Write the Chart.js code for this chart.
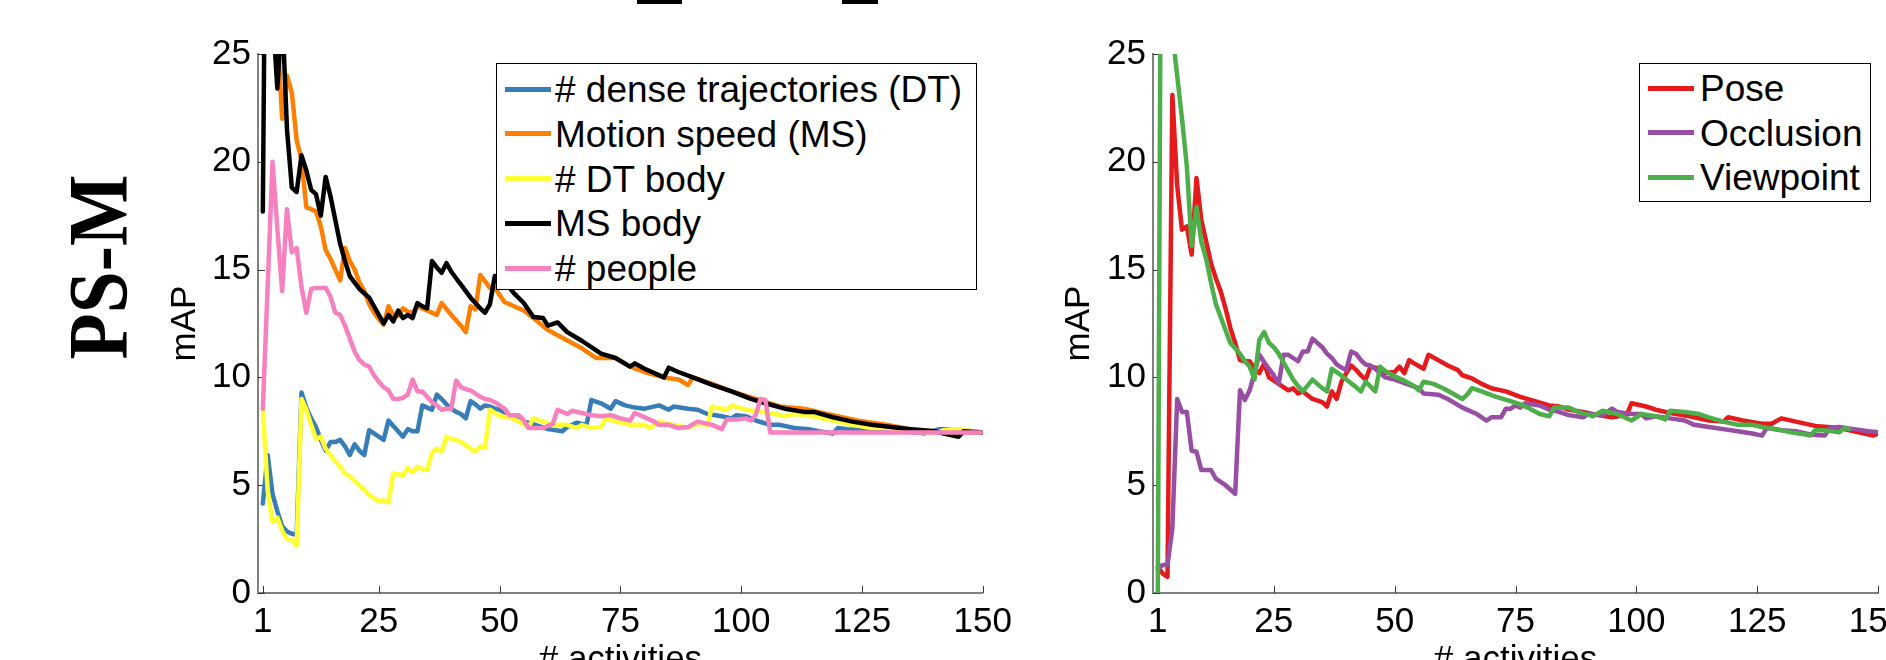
<!DOCTYPE html>
<html><head><meta charset="utf-8">
<script src="https://cdn.jsdelivr.net/npm/chart.js@4.4.1/dist/chart.umd.min.js"></script>
<style>
html,body{margin:0;padding:0;background:#fff;}
body{width:1886px;height:660px;overflow:hidden;position:relative;font-family:"Liberation Sans",Arial,sans-serif;}
canvas{position:absolute;top:0;}
#psm{position:absolute;left:98px;top:267px;transform:translate(-50%,-50%) rotate(-90deg) scaleX(0.89);font:bold 85px "Liberation Serif",serif;line-height:1;white-space:nowrap;color:#000;}
.legend{position:absolute;border:1.5px solid #000;background:#fff;box-sizing:border-box;}
.lrow{position:absolute;white-space:nowrap;font-size:37px;line-height:37px;color:#000;font-family:"Liberation Sans",Arial,sans-serif;}
.lline{position:absolute;height:5px;}
.us{position:absolute;background:#000;}
</style></head><body>
<div class="us" style="left:637px;top:0;width:45px;height:4px"></div>
<div class="us" style="left:842px;top:0;width:36px;height:4px"></div>
<div id="psm">PS-M</div>
<canvas id="c1" width="1020" height="700" style="left:0"></canvas>
<canvas id="c2" width="910" height="700" style="left:1020px"></canvas>
<script>
// ---------- data ----------
const xTicks = [1, 25, 50, 75, 100, 125, 150];
const yTicks = [0, 5, 10, 15, 20, 25];
const leftLabels = ['# dense trajectories (DT)', 'Motion speed (MS)', '# DT body', 'MS body', '# people'];
const rightLabels = ['Pose', 'Occlusion', 'Viewpoint'];

const dtX = [1,2,3,4,5,6,7,8,9,10,11,12,13,14,15,16,17,18,19,20,21,22,23,24,25,26,27,28,29,30,31,32,33,34,35,36,37,38,39,40,41,42,43,44,45,46,47,48,49,50,52,54,56,58,60,63,64,66,68,69,71,73,74,76,78,80,83,85,86,89,91,93,96,98,99,101,103,106,108,111,114,116,119,120,122,125,127,130,133,136,138,141,142,145,148,150];
const dtY = [4.15,6.4,4.6,3.8,3.1,2.85,2.75,2.7,9.3,8.6,8.1,7.7,7.1,6.6,7.0,7.0,7.1,6.8,6.4,6.9,6.6,6.4,7.55,7.4,7.25,7.1,8.0,7.75,7.5,7.25,7.6,7.5,7.5,8.7,8.6,8.5,9.2,9.0,8.75,8.55,8.4,8.3,8.1,8.9,8.75,8.55,8.7,8.65,8.55,8.5,8.25,8.0,7.9,7.75,7.6,7.5,7.7,7.9,7.8,8.95,8.8,8.55,8.9,8.7,8.6,8.55,8.7,8.5,8.65,8.55,8.5,8.3,8.2,8.1,8.25,8.2,8.0,7.8,7.8,7.65,7.6,7.5,7.4,7.65,7.6,7.55,7.5,7.5,7.5,7.45,7.4,7.6,7.6,7.55,7.5,7.45];

const msX = [1,2,3,4,5,6,7,8,9,10,11,12,13,14,15,16,17,18,19,20,21,22,23,24,25,26,27,28,29,30,31,32,33,34,35,37,38,40,42,43,44,45,46,47,48,49,51,55,57,60,67,70,74,77,80,84,87,89,90,94,98,103,108,113,119,124,130,135,140,144,146,150];
const msY = [30,45,32,26,22,24,23.2,21,20.1,17.9,17.8,17.7,17.0,15.9,15.5,15.0,14.5,16.0,15.4,15.0,14.4,14.0,13.4,13.0,12.7,12.45,13.3,12.9,12.85,13.2,13.05,13.0,13.3,13.2,13.1,12.9,13.45,12.9,12.4,12.1,13.3,13.15,14.75,14.45,14.15,14.15,13.5,13.1,12.75,12.2,11.35,10.9,10.9,10.5,10.25,10.0,9.9,9.65,10.0,9.7,9.35,9.0,8.65,8.55,8.25,8.0,7.8,7.6,7.5,7.3,7.45,7.45];

const dtbX = [1,2,3,4,5,6,7,8,9,10,11,12,13,14,15,16,17,18,19,20,21,22,23,24,25,26,27,28,29,30,31,32,33,34,35,36,37,38,39,40,41,42,43,44,45,46,47,48,50,52,54,56,57,59,61,64,66,67,69,71,72,74,77,80,81,83,86,89,91,93,94,97,98,101,104,107,109,111,115,119,123,127,130,135,140,142,145,150];
const dtbY = [8.55,4.75,3.3,3.5,2.9,2.5,2.45,2.2,9.0,8.5,7.8,7.15,7.25,6.7,6.4,6.1,5.85,5.55,5.4,5.2,5.0,4.8,4.55,4.4,4.25,4.3,4.2,5.55,5.5,5.45,5.8,5.6,5.85,5.75,5.7,6.5,6.7,6.55,7.25,7.15,7.1,7.0,6.85,6.7,6.55,6.8,6.75,8.5,8.2,8.15,7.95,7.7,8.1,7.95,7.8,7.8,7.65,7.8,7.65,7.7,8.1,7.95,7.8,7.8,7.65,7.95,7.8,7.65,7.85,7.8,8.65,8.5,8.7,8.5,8.4,8.3,8.2,8.3,8.2,8.0,7.8,7.65,7.65,7.5,7.4,7.55,7.6,7.45];

const msbX = [1,2,3,4,5,6,7,8,9,10,11,12,13,14,15,16,17,18,19,20,21,22,23,24,25,26,27,28,29,30,31,32,33,34,35,36,37,38,39,40,41,42,43,44,45,46,47,48,49,51,53,55,57,59,60,62,64,67,71,74,77,78,80,84,85,87,90,94,98,102,105,109,113,115,119,123,127,131,135,140,142,145,146,150];
const msbY = [17.7,45,27,23.4,27,21.5,18.8,18.6,20.3,19.6,18.7,18.5,17.5,19.3,18.4,17.3,16.2,15.4,14.7,14.4,14.1,13.9,13.7,13.3,12.9,12.5,12.9,12.6,13.1,12.75,12.9,12.75,13.45,13.3,13.2,15.4,15.1,14.85,15.3,14.9,14.6,14.3,14.0,13.7,13.45,13.2,13.0,13.4,14.7,14.45,13.9,13.45,12.8,12.75,12.4,12.55,12.1,11.7,11.1,10.9,10.5,10.65,10.4,10.0,10.45,10.25,10.0,9.65,9.35,9.0,8.8,8.55,8.4,8.4,8.15,7.95,7.8,7.7,7.6,7.5,7.4,7.25,7.5,7.45];

const pplX = [1,2,3,4,5,6,7,8,9,10,11,12,13,14,15,16,17,18,19,20,21,22,23,24,25,26,27,28,29,30,31,32,33,34,35,36,37,38,39,40,41,42,43,44,45,46,47,48,49,50,51,52,54,55,56,59,61,62,64,65,67,69,71,73,75,77,78,80,82,83,85,87,89,91,94,96,97,99,101,102,103,104,105,106,150];
const pplY = [8.55,14.2,20.0,16.9,14.0,17.8,15.8,16.0,14.2,13.0,14.1,14.15,14.15,14.15,13.75,13.0,12.9,12.4,11.8,11.2,10.8,10.6,10.5,10.1,9.8,9.55,9.4,9.0,9.0,9.05,9.2,9.9,9.35,9.35,9.1,8.85,8.7,8.5,8.55,8.55,9.85,9.55,9.45,9.4,9.25,9.1,9.0,8.95,8.85,8.7,8.55,8.25,8.25,8.0,7.65,7.65,7.85,8.5,8.3,8.45,8.35,8.25,8.2,8.25,8.1,8.0,8.35,8.15,7.95,7.8,7.8,7.65,7.7,7.95,7.8,7.6,8.05,8.05,8.1,8.0,8.25,9.0,8.95,7.45,7.45];

const poseX = [1,2,3,4,5,6,7,8,9,10,11,12,13,14,15,16,17,18,19,20,21,22,23,24,25,26,27,28,29,30,31,33,35,36,37,38,39,40,41,42,43,44,45,47,48,50,51,52,53,54,56,57,59,61,63,64,66,68,70,73,76,79,82,84,86,89,92,95,98,99,102,104,107,111,115,118,119,122,126,128,130,133,137,142,145,149,150];
const poseY = [1.2,0.9,0.75,23.1,18.9,16.85,17.0,15.7,19.25,17.3,16.3,15.3,14.6,14.0,13.2,12.3,11.6,10.8,10.75,10.75,10.4,10.2,10.65,10.0,9.85,9.7,9.55,9.4,9.5,9.25,9.35,9.0,8.85,8.65,9.35,9.0,9.8,10.2,10.55,10.35,10.1,9.9,10.5,10.4,10.2,10.25,10.5,10.2,10.8,10.65,10.4,11.05,10.8,10.55,10.35,10.1,9.95,9.7,9.5,9.35,9.1,8.9,8.7,8.65,8.5,8.4,8.25,8.15,8.25,8.8,8.65,8.5,8.35,8.2,8.0,7.95,8.15,8.0,7.85,7.85,8.1,7.95,7.75,7.65,7.5,7.3,7.4];

const occX = [1,2,3,4,5,6,7,8,9,10,11,12,13,14,15,16,17,18,19,20,21,22,23,24,25,26,27,28,29,30,31,32,33,34,35,36,37,38,39,40,41,42,43,44,45,46,48,50,53,55,56,59,61,64,67,69,70,72,73,74,75,76,77,80,82,84,86,89,90,93,95,96,99,101,102,104,107,110,112,115,118,121,124,126,127,130,133,136,139,140,142,145,148,150];
const occY = [1.1,1.3,1.3,3.0,9.0,8.4,8.4,6.6,6.55,5.7,5.7,5.7,5.3,5.15,5.0,4.8,4.6,9.4,8.95,9.4,10.2,11.05,10.7,10.4,10.1,9.7,11.05,11.05,10.9,10.75,11.2,11.2,11.8,11.6,11.4,11.1,10.9,10.6,10.45,10.35,11.2,11.1,10.8,10.6,10.55,10.4,10.0,9.9,9.65,9.5,9.25,9.2,9.0,8.6,8.3,8.0,8.15,8.15,8.55,8.55,8.7,8.6,8.8,8.7,8.5,8.4,8.25,8.15,8.3,8.25,8.55,8.4,8.3,8.3,8.1,8.2,8.1,8.0,7.8,7.7,7.6,7.5,7.4,7.3,7.65,7.55,7.5,7.35,7.3,7.65,7.7,7.6,7.5,7.45];

const viewX = [1,2,3,4,5,6,7,8,9,10,11,12,13,14,15,16,17,18,19,20,21,22,23,24,25,26,27,28,29,30,31,33,35,36,37,38,40,42,43,44,46,47,48,50,52,54,55,56,58,60,62,64,65,66,68,71,74,76,78,80,82,83,86,88,91,93,96,99,101,104,106,107,110,113,115,118,121,124,126,129,132,135,136,137,139,142,143,144];
const viewY = [0,50,32,26,24,22,19.8,16.1,17.9,16.3,15.5,14.4,13.4,12.8,12.2,11.6,11.35,11.1,10.75,10.5,9.9,11.75,12.1,11.6,11.4,11.1,10.7,10.3,9.9,9.6,9.35,9.9,9.5,9.35,10.4,10.25,9.9,9.55,9.35,9.8,9.35,10.5,10.3,10.05,9.85,9.6,9.4,9.8,9.7,9.5,9.25,9.0,9.2,9.5,9.35,9.1,8.9,8.75,8.55,8.3,8.2,8.6,8.6,8.4,8.2,8.45,8.3,8.0,8.3,8.2,8.05,8.45,8.4,8.3,8.15,7.95,7.8,7.8,7.7,7.6,7.45,7.35,7.3,7.55,7.55,7.45,7.65,7.6];

// ---------- styling ----------
const FONT = '"Liberation Sans", Arial, Helvetica, sans-serif';
const H = 700;
const leftColors = ['#377eb8', '#ff7f00', '#ffff33', '#000000', '#f781bf'];
const rightColors = ['#e41a1c', '#984ea3', '#4daf4a'];

const pts = (xs, ys) => xs.map((x, i) => ({ x: x, y: ys[i] }));

const inwardTicks = {
  id: 'inwardTicks',
  beforeDatasetsDraw(chart) {
    const { ctx, chartArea, scales } = chart;
    ctx.save();
    ctx.strokeStyle = '#333';
    ctx.lineWidth = 1;
    scales.x.ticks.forEach(t => {
      const px = Math.round(scales.x.getPixelForValue(t.value)) + 0.5;
      ctx.beginPath(); ctx.moveTo(px, chartArea.bottom); ctx.lineTo(px, chartArea.bottom - 7); ctx.stroke();
    });
    scales.y.ticks.forEach(t => {
      const py = Math.round(scales.y.getPixelForValue(t.value)) + 0.5;
      ctx.beginPath(); ctx.moveTo(chartArea.left, py); ctx.lineTo(chartArea.left + 7, py); ctx.stroke();
    });
    ctx.restore();
  }
};

function makeChart(canvas, datasets, cfg) {
  return new Chart(canvas, {
    type: 'line',
    data: { datasets: datasets },
    options: {
      responsive: false, animation: false, devicePixelRatio: 1,
      layout: { padding: { top: 54, right: cfg.padRight, bottom: 0, left: 0 } },
      plugins: { legend: { display: false }, tooltip: { enabled: false } },
      elements: { point: { radius: 0 }, line: { tension: 0, borderWidth: 4.5, borderJoinStyle: 'round', borderCapStyle: 'round' } },
      scales: {
        x: {
          type: 'linear', min: 0, max: 150,
          afterBuildTicks: s => { s.ticks = xTicks.map(v => ({ value: v })); },
          afterFit: s => { s.height = H - 593; },
          grid: { display: false, drawTicks: false },
          border: { display: true, color: '#808080', width: 2 },
          ticks: { color: '#000', font: { family: FONT, size: 35 }, padding: 8, maxRotation: 0, autoSkip: false },
          title: { display: true, text: '# activities', color: '#000', font: { family: FONT, size: 35 }, padding: { top: 0, bottom: 19 } }
        },
        y: {
          type: 'linear', min: 0, max: 25,
          afterBuildTicks: s => { s.ticks = yTicks.map(v => ({ value: v })); },
          afterFit: s => { s.width = cfg.yWidth; },
          grid: { display: false, drawTicks: false },
          border: { display: true, color: '#808080', width: 2 },
          ticks: { color: '#000', font: { family: FONT, size: 35 }, padding: 7, autoSkip: false },
          title: { display: true, text: 'mAP', color: '#000', font: { family: FONT, size: 35 }, padding: { top: cfg.yTitlePad, bottom: 0 } }
        }
      }
    },
    plugins: [inwardTicks]
  });
}

const leftSeries = [pts(dtX, dtY), pts(msX, msY), pts(dtbX, dtbY), pts(msbX, msbY), pts(pplX, pplY)];
const rightSeries = [pts(poseX, poseY), pts(occX, occY), pts(viewX, viewY)];

const leftSets = leftSeries.map((d, i) => ({ label: leftLabels[i], data: d, borderColor: leftColors[i], backgroundColor: leftColors[i], order: leftSeries.length - i }));
const rightSets = rightSeries.map((d, i) => ({ label: rightLabels[i], data: d, borderColor: rightColors[i], backgroundColor: rightColors[i], order: rightSeries.length - i }));

makeChart(document.getElementById('c1'), leftSets, { padRight: 37, yWidth: 258, yTitlePad: 164 });
makeChart(document.getElementById('c2'), rightSets, { padRight: 52, yWidth: 133, yTitlePad: 38 });

// ---------- HTML legends ----------
function makeLegend(labels, colors, box, rows) {
  const lg = document.createElement('div');
  lg.className = 'legend';
  lg.style.left = box.left + 'px'; lg.style.top = box.top + 'px';
  lg.style.width = box.width + 'px'; lg.style.height = box.height + 'px';
  document.body.appendChild(lg);
  labels.forEach((lab, i) => {
    const cy = rows.first + i * rows.step - box.top;
    const ln = document.createElement('div');
    ln.className = 'lline';
    ln.style.left = rows.lineLeft + 'px'; ln.style.width = rows.lineW + 'px';
    ln.style.top = (cy - 2.5) + 'px'; ln.style.background = colors[i];
    lg.appendChild(ln);
    const tx = document.createElement('div');
    tx.className = 'lrow';
    tx.textContent = lab;
    tx.style.left = rows.textLeft + 'px'; tx.style.top = (cy - 18) + 'px';
    lg.appendChild(tx);
  });
}
makeLegend(leftLabels, leftColors, { left: 496, top: 63, width: 481, height: 227 }, { first: 88, step: 44.75, lineLeft: 8, lineW: 46, textLeft: 58 });
makeLegend(rightLabels, rightColors, { left: 1639, top: 63, width: 232, height: 139 }, { first: 87, step: 44.5, lineLeft: 8, lineW: 46, textLeft: 60 });
</script>
</body></html>
